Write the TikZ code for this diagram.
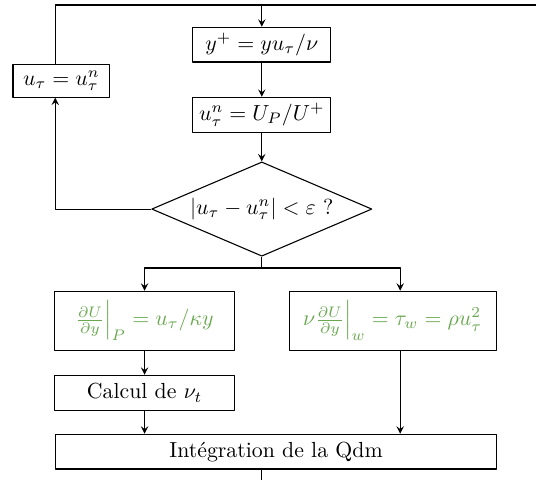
\documentclass[tikz,border=0pt]{standalone}
\usetikzlibrary{shapes.geometric}
\definecolor{vertloi}{RGB}{106,168,79}
\begin{document}
\begin{tikzpicture}[>=stealth,line join=round,line width=0.5pt,
	boite/.style={draw,rectangle,minimum height=0.56cm,inner sep=1pt},
	losange/.style={draw,diamond,shape aspect=2.3,inner sep=0pt,minimum width=3.55cm,minimum height=1.52cm},
	loi/.style={boite,text=vertloi,minimum height=0.95cm}]
	\useasboundingbox (0,0) rectangle (8.64,-7.74);
	% Boucle sur u_tau
	\node[boite,minimum width=2.22cm] (yplus) at (4.22,-0.72) {$y^+ = y u_\tau/\nu$};
	\node[boite,minimum width=2.22cm] (unew) at (4.22,-1.85) {$u_\tau^n = U_P/U^+$};
	\node[losange] (test) at (4.22,-3.37) {$|u_\tau - u_\tau^n| < \varepsilon$ ?};
	\node[boite,minimum width=1.56cm,minimum height=0.53cm] (maj) at (0.99,-1.30) {$u_\tau = u_\tau^n$};
	% Lois de paroi
	\node[loi,minimum width=2.89cm] (loiP) at (2.33,-5.17) {$\frac{\partial U}{\partial y}\Big|_P = u_\tau/\kappa y$};
	\node[loi,minimum width=3.34cm] (loiW) at (6.33,-5.17) {$\nu\frac{\partial U}{\partial y}\Big|_w = \tau_w = \rho u_\tau^2$};
	\node[boite,minimum width=2.89cm] (nut) at (2.33,-6.33) {Calcul de $\nu_t$};
	\node[boite,minimum width=7.12cm] (qdm) at (4.45,-7.28) {Intégration de la Qdm};
	% Points de passage
	\coordinate (haut) at (4.22,-0.08);
	\coordinate (hautG) at (0.89,-0.08);
	\coordinate (hautD) at (8.64,-0.08);
	\coordinate (fourche) at (4.22,-4.32);
	\coordinate (colD) at (6.45,-4.32);
	\coordinate (bas) at (4.22,-7.74);
	% Liaisons
	\draw[->] (haut) -- (yplus);
	\draw[->] (yplus) -- (unew);
	\draw[->] (unew) -- (test);
	\draw[->] (test.west) -| (maj.south -| hautG);
	\draw (maj.north -| hautG) -- (hautG) -- (hautD);
	\draw (test.south) -- (fourche);
	\draw[->] (fourche) -| (loiP);
	\draw[->] (fourche) -- (colD) -- (loiW.north -| colD);
	\draw[->] (loiP) -- (nut);
	\draw[->] (nut) -- (nut |- qdm.north);
	\draw[->] (loiW.south -| colD) -- (colD |- qdm.north);
	\draw (qdm.south -| bas) -- (bas);
\end{tikzpicture}
\end{document}
